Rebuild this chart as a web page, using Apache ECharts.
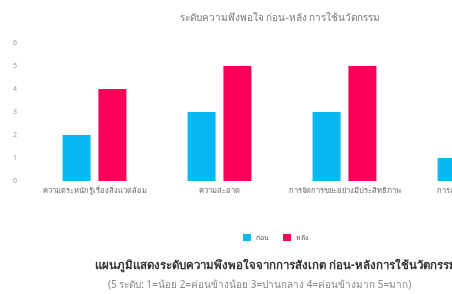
<!DOCTYPE html>
<html>
<head>
<meta charset="utf-8">
<script src="https://cdn.jsdelivr.net/npm/echarts@6/dist/echarts.min.js"></script>
<style>
  html, body { margin: 0; padding: 0; background: #fff; overflow: hidden; width: 452px; height: 294px; }
  #main { width: 540px; height: 294px; }
</style>
</head>
<body>
<div id="main"></div>
<script>
// ข้อมูลแผนภูมิ
var categories = [
  'ความตระหนักรู้เรื่องสิ่งแวดล้อม',
  'ความสะอาด',
  'การจัดการขยะอย่างมีประสิทธิภาพ',
  'การลดขยะในชุมชน'
]
var beforeData = [2, 3, 3, 1]
var afterData = [4, 5, 5, 4]
var seriesNames = ['ก่อน', 'หลัง']
var yTicks = [0, 6, 1] // min, max, interval

var chartTitle = 'ระดับความพึงพอใจ ก่อน-หลัง การใช้นวัตกรรม'
var bottomTitle = 'แผนภูมิแสดงระดับความพึงพอใจจากการสังเกต ก่อน-หลังการใช้นวัตกรรม'
var bottomSub = '(5 ระดับ: 1=น้อย 2=ค่อนข้างน้อย 3=ปานกลาง 4=ค่อนข้างมาก 5=มาก)'

var font = '"Noto Sans", sans-serif'
var myChart = echarts.init(document.getElementById('main'))

myChart.setOption({
  animation: false,
  textStyle: { fontFamily: font },
  title: [
    {
      text: chartTitle,
      left: 275, top: 8, textAlign: 'center',
      textStyle: { fontSize: 10, fontWeight: 'normal', color: '#777' }
    },
    {
      text: bottomTitle,
      left: 90, top: 255,
      textStyle: { fontSize: 11.5, fontWeight: 'bold', color: '#333' }
    },
    {
      text: bottomSub,
      left: 103, top: 275,
      textStyle: { fontSize: 10, fontWeight: 'normal', color: '#888' }
    }
  ],
  legend: {
    data: seriesNames,
    left: 238, top: 229,
    itemWidth: 8, itemHeight: 7, itemGap: 14,
    icon: 'rect',
    textStyle: { fontSize: 7, color: '#555' }
  },
  grid: { left: 32, right: 8, top: 43, bottom: 113, containLabel: false },
  xAxis: {
    type: 'category',
    data: categories,
    axisLine: { show: false },
    axisTick: { show: false },
    axisLabel: { fontSize: 7.5, color: '#666', margin: 6, interval: 0 }
  },
  yAxis: {
    type: 'value',
    min: yTicks[0], max: yTicks[1], interval: yTicks[2],
    splitLine: { show: false },
    axisLine: { show: false },
    axisTick: { show: false },
    axisLabel: { fontSize: 7, color: '#999', margin: 15 }
  },
  series: [
    {
      name: seriesNames[0], type: 'bar', data: beforeData,
      barWidth: 28, barGap: '28%',
      itemStyle: { color: '#08b8f3' }
    },
    {
      name: seriesNames[1], type: 'bar', data: afterData,
      barWidth: 28,
      itemStyle: { color: '#fa0058' }
    }
  ]
})
</script>
</body>
</html>
